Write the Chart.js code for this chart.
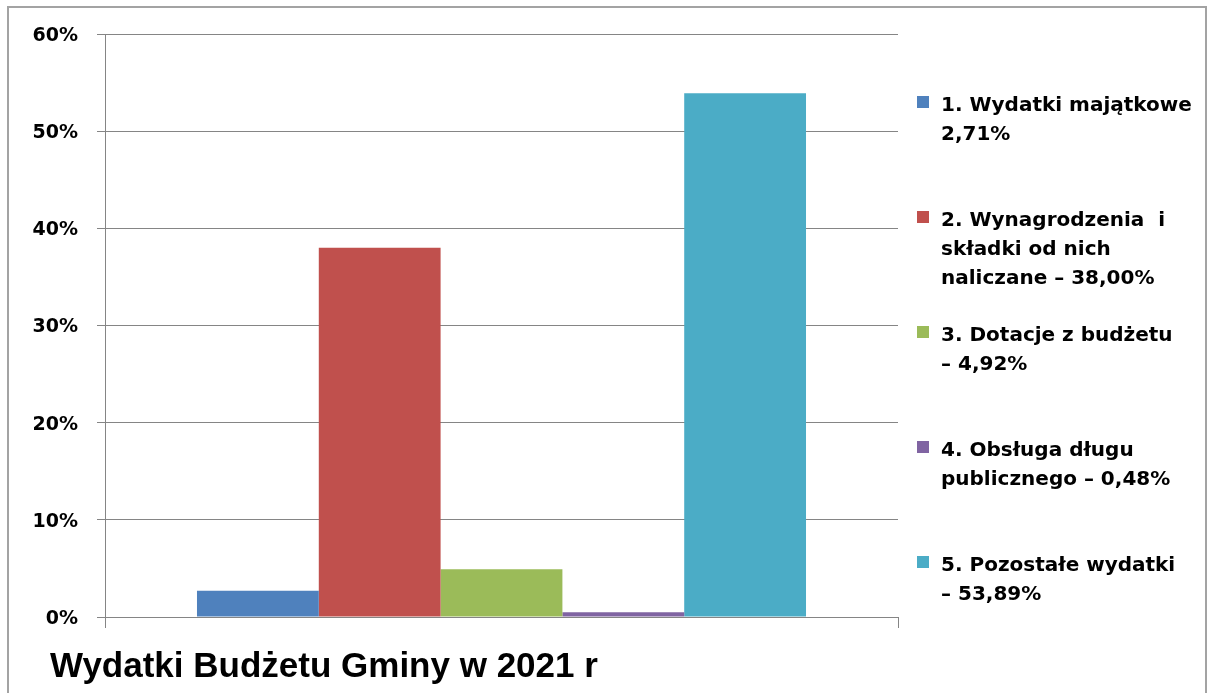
<!DOCTYPE html>
<html>
<head>
<meta charset="utf-8">
<script src="https://cdn.jsdelivr.net/npm/chart.js@4.4.0/dist/chart.umd.min.js"></script>
<style>
  body { margin: 0; background: #fff; }
  #frame {
    position: absolute; left: 7px; top: 6px; width: 1200px; height: 760px;
    border: 2px solid #a3a3a3; box-sizing: border-box;
  }
  #chart { position: absolute; left: 0; top: 0; }
</style>
</head>
<body>
<div id="frame"></div>
<canvas id="chart" width="1214" height="693"></canvas>
<script>
'use strict'

// data
const categories = ['Wydatki Budżetu Gminy w 2021 r'];
const seriesLines = [
  ['1. Wydatki majątkowe', '2,71%'],
  ['2. Wynagrodzenia  i', 'składki od nich', 'naliczane – 38,00%'],
  ['3. Dotacje z budżetu', '– 4,92%'],
  ['4. Obsługa długu', 'publicznego – 0,48%'],
  ['5. Pozostałe wydatki', '– 53,89%']
];
const seriesValues = [2.71, 38.00, 4.92, 0.48, 53.89];
const seriesColors = ['#4f81bd', '#c0504d', '#9bbb59', '#8064a2', '#4bacc6'];
const yTicks = [0, 10, 20, 30, 40, 50, 60];

const gridColor = '#858585';

const datasets = seriesValues.map(function(v, i){
  return {
    label: seriesLines[i].join(' '),
    data: [v],
    backgroundColor: seriesColors[i],
    borderWidth: 0,
    categoryPercentage: 0.768,
    barPercentage: 1
  };
});

// legend at the right and the title under the axis, drawn like excel does
const sidePlugin = {
  id: 'side',
  afterDraw(chart){
    const ctx = chart.ctx;
    ctx.save();
    ctx.fillStyle = '#000';
    ctx.textBaseline = 'alphabetic';
    ctx.font = 'bold 20px "DejaVu Sans"';
    chart.data.datasets.forEach(function(ds, i){
      const base = 111 + i * 115;
      ctx.fillStyle = ds.backgroundColor;
      ctx.fillRect(917, base - 15, 12, 12);
      ctx.fillStyle = '#000';
      seriesLines[i].forEach(function(line, j){
        ctx.fillText(line, 941, base + j * 29);
      });
    });
    ctx.font = 'bold 35px "Liberation Sans"';
    ctx.fillText(chart.data.labels[0], 50, 677);
    ctx.restore();
  }
};

new Chart(document.getElementById('chart'), {
  type: 'bar',
  data: {
    labels: categories,
    datasets: datasets
  },
  options: {
    responsive: false,
    animation: false,
    devicePixelRatio: 1,
    layout: {
      padding: { left: 0, right: 316, top: 34, bottom: 65 }
    },
    plugins: {
      legend: { display: false },
      title: { display: false },
      tooltip: { enabled: false }
    },
    scales: {
      x: {
        offset: true,
        grid: {
          offset: true,
          drawOnChartArea: false,
          drawTicks: true,
          tickLength: 11,
          color: gridColor
        },
        border: { color: gridColor },
        ticks: { display: false },
        afterFit(s){ s.height = 11; }
      },
      y: {
        min: 0,
        max: 60,
        afterBuildTicks(s){ s.ticks = yTicks.map(function(v){ return { value: v }; }); },
        grid: { color: gridColor, tickLength: 8 },
        border: { color: gridColor },
        ticks: {
          padding: 19,
          labelOffset: 2,
          color: '#000',
          font: { family: 'DejaVu Sans', weight: 'bold', size: 19 },
          callback: function(v){ return v + '%'; }
        },
        afterFit(s){ s.width = 105; }
      }
    }
  },
  plugins: [sidePlugin]
});
</script>
</body>
</html>
